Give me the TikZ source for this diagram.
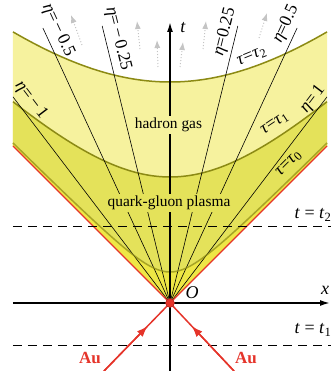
\documentclass[tikz,border=0pt]{standalone}
\usepackage{fontspec}
\setmainfont{Liberation Serif}
\usetikzlibrary{arrows.meta,calc}
\definecolor{lightband}{HTML}{F6F29E}
\definecolor{midband}{HTML}{E4E25A}
\definecolor{innerband}{HTML}{EEE745}
\definecolor{curvecol}{HTML}{8C8A14}
\definecolor{aured}{HTML}{E5342A}
\definecolor{flowgray}{HTML}{C4C4C4}
\tikzset{
  curve/.style={curvecol, line width=1.5pt},
  etaline/.style={black, line width=0.6pt},
  axisline/.style={black, line width=1.6pt},
  tline/.style={black, line width=0.8pt, dash pattern=on 9pt off 6pt},
  flow/.style={flowgray, line width=1pt, dotted, -{Latex[length=8pt,width=6pt]}},
  aubeam/.style={aured, line width=1.5pt},
  lab/.style={font=\fontsize{17.5}{19}\selectfont, inner sep=0pt},
  region/.style={font=\fontsize{15.4}{18}\selectfont, inner sep=2pt},
  tlab/.style={font=\fontsize{18}{20}\selectfont, inner sep=1pt}
}
\newcommand{\hyp}[1]{100*sqrt((\x/100)^2+(#1/100)^2)}
\begin{document}
\begin{tikzpicture}[x=1pt,y=1pt]
\useasboundingbox (-170,-68) rectangle (166,303);
\coordinate (O) at (0,0);
% bands
\fill[lightband] (-157,157) -- (O) -- (157,157) -- plot[domain=157:-157,samples=90] (\x,{\hyp{221}}) -- cycle;
\fill[midband] (-157,157) -- (O) -- (157,157) -- plot[domain=157:-157,samples=90] (\x,{\hyp{126}}) -- cycle;
\fill[innerband] (-157,157) -- (O) -- (157,157) -- plot[domain=157:-157,samples=120] (\x,{\hyp{31}}) -- cycle;
% hyperbolas
\draw[curve] plot[domain=-157:157,samples=90] (\x,{\hyp{221}});
\draw[curve] plot[domain=-157:157,samples=90] (\x,{\hyp{126}});
% eta lines
\coordinate (em1) at (-157,206.1);
\coordinate (em05) at (-127.1,275);
\coordinate (em025) at (-67.8,277);
\coordinate (ep025) at (67.8,277);
\coordinate (ep05) at (127.1,275);
\coordinate (ep1) at (157,206.1);
\foreach \e in {em1,em05,em025,ep025,ep05,ep1} \draw[etaline] (O) -- (\e);
\draw[curve, opacity=0.7] plot[domain=-157:157,samples=120] (\x,{\hyp{31}});
% light cone
\coordinate (LL) at (-157,157);
\coordinate (LR) at (157,157);
\draw[aured, line width=1.4pt] (LL) -- (O) -- (LR);
% flow arrows
\coordinate (f1a) at (-88,258); \coordinate (f1b) at (-99,288);
\coordinate (f2a) at (-30,254); \coordinate (f2b) at (-33,282);
\coordinate (f3a) at (-12,236); \coordinate (f3b) at (-13,263);
\coordinate (f4a) at (10,236);  \coordinate (f4b) at (13,261);
\coordinate (f5a) at (33,254);  \coordinate (f5b) at (36,282);
\coordinate (f6a) at (89,265);  \coordinate (f6b) at (97,290);
\foreach \i in {1,...,6} \draw[flow] (f\i a) -- (f\i b);
% dashed time lines
\coordinate (t2l) at (-157,77); \coordinate (t2r) at (161,77);
\coordinate (t1l) at (-157,-42); \coordinate (t1r) at (161,-42);
\draw[tline] (t2l) -- (t2r);
\draw[tline] (t1l) -- (t1r);
% axes
\coordinate (xl) at (-157,0); \coordinate (xr) at (160,0);
\coordinate (tb) at (0,-68); \coordinate (tt) at (0,281);
\draw[axisline, -{Latex[length=10pt,width=6pt]}] (xl) -- (xr);
\draw[axisline, -{Latex[length=10pt,width=6pt]}] (tb) -- (tt);
% Au beams
\coordinate (AuL) at (-66,-68);
\coordinate (AuR) at (64,-68);
\draw[aubeam] (AuL) -- (O);
\draw[aubeam] (AuR) -- (O);
\draw[aubeam, -{Latex[length=11pt,width=8pt]}] (AuL) -- ($(AuL)!0.66!(O)$);
\draw[aubeam, -{Latex[length=11pt,width=8pt]}] (AuR) -- ($(AuR)!0.66!(O)$);
\fill[aured, draw=aured!70!black, line width=0.4pt] (O) circle (4.5);
% region labels
\node[region, fill=lightband] (hg) at (-1.5,178) {hadron gas};
\node[region, fill=midband] (qgp) at (-1,100) {quark-gluon plasma};
% eta labels
\node[lab, rotate=-65.2] (lem05) at (-112,273) {\textit{η}=\,−\,0.5};
\node[lab, rotate=-76] (lem025) at (-52,264) {\textit{η}=\,−\,0.25};
\node[lab, rotate=76] (lep025) at (55,271) {\textit{η}=0.25};
\node[lab, rotate=65.2] (lep05) at (116,279) {\textit{η}=0.5};
\node[lab, rotate=52.7] (lep1) at (143,204) {\textit{η}=\,1};
\node[lab, rotate=-52.7] (lem1) at (-139,203) {\textit{η}=\,−\,1};
% tau labels
\node[lab, rotate=22] (ltau2) at (82,246) {\textit{τ}=\textit{τ}\textsubscript{2}};
\node[lab, rotate=34] (ltau1) at (105,179) {\textit{τ}=\textit{τ}\textsubscript{1}};
\node[lab, rotate=45] (ltau0) at (119,139) {\textit{τ}=\textit{τ}\textsubscript{0}};
% time labels
\node[tlab] (lt2) at (143,88) {\textit{t} = \textit{t}\textsubscript{2}};
\node[tlab] (lt1) at (143,-27) {\textit{t} = \textit{t}\textsubscript{1}};
\node[tlab] (lx) at (155,13) {\textit{x}};
\node[tlab] (lt) at (13,275) {\textit{t}};
\node[tlab] (lO) at (22,10) {\textit{O}};
\node[tlab, text=aured, font=\fontsize{17}{19}\selectfont\bfseries] (lAuL) at (-80,-55) {Au};
\node[tlab, text=aured, font=\fontsize{17}{19}\selectfont\bfseries] (lAuR) at (76,-55) {Au};
\end{tikzpicture}
\end{document}
